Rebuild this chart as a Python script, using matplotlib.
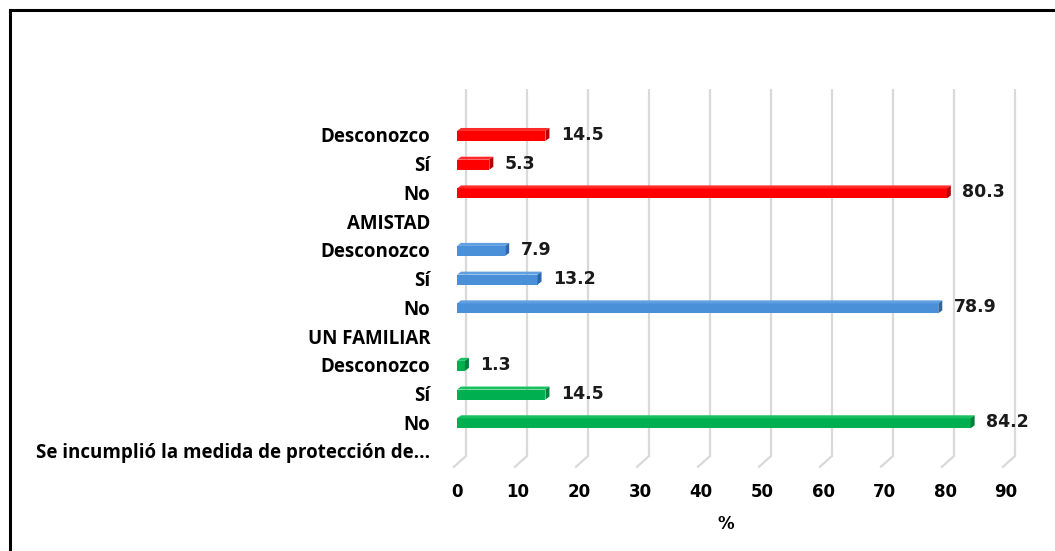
import matplotlib.pyplot as plt
from matplotlib.patches import Polygon
from matplotlib.lines import Line2D

# ---- data (bottom to top, as drawn) ----
groups = ["Se incumplió la medida de protección de...", "UN FAMILIAR", "AMISTAD"]
answers = ["No", "Sí", "Desconozco"]
medida = [84.2, 14.5, 1.3]
familiar = [78.9, 13.2, 7.9]
amistad = [80.3, 5.3, 14.5]
series = [medida, familiar, amistad]
xticks = [0, 10, 20, 30, 40, 50, 60, 70, 80, 90]

front_colors = ['#00B050', '#4A90D9', '#FF0000']
top_colors = ['#19C060', '#5F9FE2', '#FF2B2B']
side_colors = ['#00803A', '#2C68A8', '#B80000']

W, H = 1055, 551
fig = plt.figure(figsize=(W / 100, H / 100), dpi=100)

# axes placed so that the bar plane runs 0..90 over x=457..1006 px
ymin, ymax = -0.55, 12.6
row_px = 28.73
ax_bottom_px = 451 + (0 - ymin) * row_px
ax_top_px = 451 - (ymax - 0) * row_px
ax = fig.add_axes([457 / W, 1 - ax_bottom_px / H, 549 / W, (ax_bottom_px - ax_top_px) / H])
ax.set_xlim(0, 90)
ax.set_ylim(ymin, ymax)

ux = 90 / 549          # data units per pixel, x
uy = 1 / row_px        # data units per pixel, y

# ---- 3D-ish gridlines: back wall + floor ----
back_dx, front_dx = 9 * ux, -3 * ux
floor_y = -5 * uy
for v in xticks:
    ax.plot([v + back_dx, v + back_dx], [ymax, floor_y], color='#d9d9d9', lw=1.6,
            clip_on=False, zorder=0, solid_capstyle='butt')
    ax.plot([v + back_dx, v + front_dx], [floor_y, ymin], color='#d9d9d9', lw=1.6,
            clip_on=False, zorder=0)

# ---- bars ----
ypos, ylabels = [], []
dx, dy = 4 * ux, 3 * uy
front_h = 10 * uy
for g, (name, vals) in enumerate(zip(groups, series)):
    ypos.append(4 * g)
    ylabels.append(name)
    for k, (ans, v) in enumerate(zip(answers, vals)):
        yc = 4 * g + k + 1
        ypos.append(yc)
        ylabels.append(ans)
        yb = yc - 0.6 * front_h
        yt = yb + front_h
        ax.barh(yb, v, height=front_h, align='edge', color=front_colors[g], lw=0, zorder=3)
        ax.add_patch(Polygon([(0, yt), (v, yt), (v + dx, yt + dy), (dx, yt + dy)],
                             closed=True, color=top_colors[g], lw=0, zorder=3))
        ax.add_patch(Polygon([(v, yb), (v, yt), (v + dx, yt + dy), (v + dx, yb + dy)],
                             closed=True, color=side_colors[g], lw=0, zorder=4))
        ax.annotate(f"{v:.1f}", xy=(v, yc), xytext=(11, 0), textcoords='offset points',
                    ha='left', va='center', fontsize=12.5, fontweight='bold',
                    family='DejaVu Sans', color='#1a1a1a')

ax.set_yticks(ypos)
ax.set_yticklabels(ylabels, family='Open Sans', fontweight='bold', fontsize=13.5)
ax.tick_params(axis='y', length=0, pad=19)
ax.set_xticks(xticks)
ax.set_xticklabels([str(t) for t in xticks], family='DejaVu Sans', fontweight='bold', fontsize=12)
ax.tick_params(axis='x', length=0, pad=12)
ax.set_xlabel("%", family='DejaVu Sans', fontweight='bold', fontsize=12)
ax.xaxis.set_label_coords(0.49, -0.128)
for s in ax.spines.values():
    s.set_visible(False)
ax.set_facecolor('none')

# ---- outer frame (left and top edges visible) ----
fig.add_artist(Line2D([9.5 / W, 9.5 / W], [0, 1 - 9.5 / H], color='black', lw=2.2,
                      transform=fig.transFigure))
fig.add_artist(Line2D([9.5 / W, 1], [1 - 9.5 / H, 1 - 9.5 / H], color='black', lw=2.2,
                      transform=fig.transFigure))

fig.savefig("out.png", dpi=100)
